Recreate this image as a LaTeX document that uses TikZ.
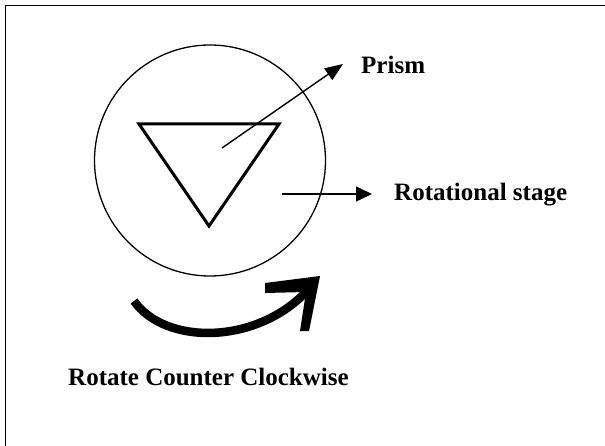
\documentclass[tikz,border=0pt]{standalone}
\usepackage{fontspec}
\setmainfont{Liberation Serif}
\usetikzlibrary{arrows.meta}
\tikzset{
  lbl/.style={font=\bfseries\fontsize{25}{25}\selectfont, inner sep=0pt, anchor=base west},
  thinarrow/.style={line width=1.4pt},
}
\begin{document}
\begin{tikzpicture}[x=1pt,y=-1pt]
\useasboundingbox (0,0) rectangle (605,446);
\fill[white] (0,0) rectangle (605,446);
% frame
\draw[line width=1.4pt] (5.5,452) -- (5.5,5.5) -- (612,5.5);
% stage circle
\node[draw, circle, line width=1.3pt, minimum size=231pt, inner sep=0pt] (stage) at (210,160.5) {};
% prism
\coordinate (p1) at (139,124);
\coordinate (p2) at (279,124);
\coordinate (p3) at (209,226);
\draw[line width=3pt, line join=miter] (p1) -- (p2) -- (p3) -- cycle;
% labels
\node[lbl] (prism) at (361,74) {Prism};
\node[lbl] (rstage) at (394,201) {Rotational stage};
\node[lbl] (rot) at (68,385) {Rotate Counter Clockwise};
% arrows
\coordinate (ps) at (222,148);
\coordinate (pt) at (343,64);
\draw[thinarrow, -{Triangle[length=18pt,width=14pt]}] (ps) -- (pt);
\coordinate (rs) at (282,194);
\coordinate (rt) at (372,194);
\draw[thinarrow, -{Triangle[length=16pt,width=15pt]}] (rs) -- (rt);
% thick rotation arrow
\coordinate (a0) at (134,301);
\coordinate (a1) at (306,292);
\draw[line width=8.5pt] (a0) .. controls (165,345) and (255,345) .. (a1);
\fill (265,283) -- (320,276) -- (309,331) -- (300,331) -- (306,292) -- (265,293) -- cycle;
\end{tikzpicture}
\end{document}
